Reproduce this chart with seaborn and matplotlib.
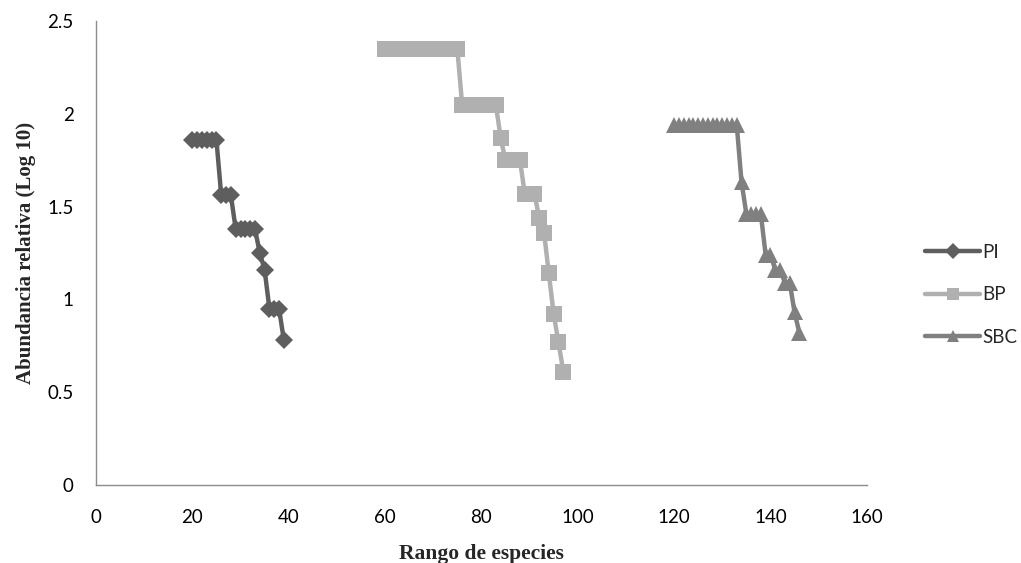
import matplotlib
matplotlib.use("Agg")
import matplotlib.pyplot as plt
import seaborn as sns
import pandas as pd

# rangos (x) y abundancia relativa log10 (y) por sitio
rango_pi = [20, 21, 22, 23, 24, 25, 26, 27, 28, 29, 30, 31, 32, 33, 34, 35, 36, 37, 38, 39]
abund_pi = [1.86, 1.86, 1.86, 1.86, 1.86, 1.86, 1.56, 1.56, 1.56, 1.38, 1.38, 1.38, 1.38, 1.38,
            1.25, 1.16, 0.95, 0.95, 0.95, 0.78]

rango_bp = [60, 61, 62, 63, 64, 65, 66, 67, 68, 69, 70, 71, 72, 73, 74, 75,
            76, 77, 78, 79, 80, 81, 82, 83, 84, 85, 86, 87, 88, 89, 90, 91,
            92, 93, 94, 95, 96, 97]
abund_bp = [2.35, 2.35, 2.35, 2.35, 2.35, 2.35, 2.35, 2.35, 2.35, 2.35, 2.35, 2.35, 2.35, 2.35, 2.35, 2.35,
            2.05, 2.05, 2.05, 2.05, 2.05, 2.05, 2.05, 2.05, 1.87, 1.75, 1.75, 1.75, 1.75, 1.57, 1.57, 1.57,
            1.44, 1.36, 1.14, 0.92, 0.77, 0.61]

rango_sbc = [120, 121, 122, 123, 124, 125, 126, 127, 128, 129, 130, 131, 132, 133,
             134, 135, 136, 137, 138, 139, 140, 141, 142, 143, 144, 145, 146]
abund_sbc = [1.94, 1.94, 1.94, 1.94, 1.94, 1.94, 1.94, 1.94, 1.94, 1.94, 1.94, 1.94, 1.94, 1.94,
             1.63, 1.46, 1.46, 1.46, 1.46, 1.24, 1.24, 1.16, 1.16, 1.09, 1.09, 0.93, 0.82]

sitios = ["PI", "BP", "SBC"]

df = pd.concat([
    pd.DataFrame({"rango": rango_pi, "abund": abund_pi, "sitio": "PI"}),
    pd.DataFrame({"rango": rango_bp, "abund": abund_bp, "sitio": "BP"}),
    pd.DataFrame({"rango": rango_sbc, "abund": abund_sbc, "sitio": "SBC"}),
])

colores = {"PI": "#5e5e5e", "BP": "#b0b0b0", "SBC": "#808080"}
marcas = {"PI": "D", "BP": "s", "SBC": "^"}
tamanos = {"PI": 9, "BP": 12, "SBC": 12}

sns.set_style("white")
plt.rcParams["font.family"] = ["Lato", "DejaVu Sans"]

fig = plt.figure(figsize=(10.21, 5.63), dpi=100)
ax = fig.add_axes([0.094, 0.1385, 0.755, 0.8242])

for s in sitios:
    sns.lineplot(data=df[df["sitio"] == s], x="rango", y="abund", color=colores[s],
                 marker=marcas[s], markersize=tamanos[s], markeredgewidth=0,
                 linewidth=3.2, label=s, ax=ax, estimator=None, sort=False)

ax.set_xlim(0, 160)
ax.set_ylim(0, 2.5)
ax.set_xticks(range(0, 161, 20))
ax.set_yticks([0, 0.5, 1, 1.5, 2, 2.5])
ax.set_yticklabels(["0", "0.5", "1", "1.5", "2", "2.5"])

for side in ["top", "right"]:
    ax.spines[side].set_visible(False)
for side in ["left", "bottom"]:
    ax.spines[side].set_color("#8c8c8c")
    ax.spines[side].set_linewidth(1.0)
ax.tick_params(axis="both", which="major", direction="out", length=6, width=1,
               color="#8c8c8c", labelsize=13.5, labelcolor="black", pad=10)
ax.tick_params(axis="x", pad=11)

ax.set_xlabel("Rango de especies", family="Liberation Serif", weight="bold", fontsize=15.5, labelpad=13)
ax.set_ylabel("Abundancia relativa (Log 10)", family="Liberation Serif", weight="bold", fontsize=15,
              labelpad=8)

# leyenda fuera del area de trazado, a la derecha
leg = ax.legend(loc="center left", bbox_to_anchor=(1.076, 0.41), frameon=False, fontsize=13.5,
                labelspacing=1.35, handlelength=2.9, handletextpad=0.15, borderpad=0,
                borderaxespad=0)
for h in leg.legend_handles:
    h.set_markersize(8)

fig.savefig("out.png", dpi=100)
